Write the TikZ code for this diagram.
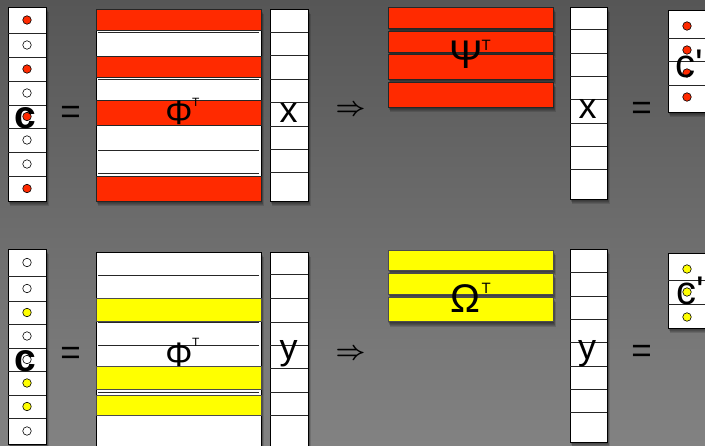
\documentclass[tikz,border=0pt]{standalone}
\usepackage{fontspec}
\setmainfont{Liberation Sans}
\definecolor{matred}{RGB}{255,42,0}
\definecolor{matyel}{RGB}{255,255,0}
\definecolor{bgtop}{RGB}{86,86,86}
\definecolor{bgbot}{RGB}{130,130,130}
\pgfdeclarelayer{bglayer}
\pgfdeclarelayer{shadowlayer}
\pgfsetlayers{bglayer,shadowlayer,main}
\newcommand\castshadow[1]{%
  \begin{pgfonlayer}{shadowlayer}
  \foreach \s in {1,2,3,4,5}
    \fill[black, opacity=0.13] ([shift={(0.5*\s,\s)}]#1.north west) rectangle ([shift={(0.5*\s,\s)}]#1.south east);
  \end{pgfonlayer}}
\tikzset{
  box/.style={rectangle, draw=black, line width=0.9pt, fill=white, inner sep=0pt},
  redbar/.style={rectangle, draw=black!85, line width=0.8pt, fill=matred, inner sep=0pt, minimum width=165pt},
  yelbar/.style={rectangle, draw=black!70, line width=0.8pt, fill=matyel, inner sep=0pt, minimum width=165pt},
  cellline/.style={draw=black!85, line width=0.7pt},
  dot/.style={circle, draw=black, line width=0.6pt, minimum size=8.5pt, inner sep=0pt},
  lbl/.style={inner sep=0pt, text=black},
  big/.style={lbl, font=\fontsize{40}{44}\selectfont},
  bigc/.style={lbl, font=\fontsize{39}{44}\selectfont\bfseries},
  mid/.style={lbl, font=\fontsize{36}{40}\selectfont},
  phis/.style={lbl, font=\fontsize{34}{38}\selectfont},
  supsmall/.style={lbl, font=\fontsize{12}{13}\selectfont},
  supbig/.style={lbl, font=\fontsize{15}{16}\selectfont},
  eqs/.style={lbl, font=\fontsize{35}{38}\selectfont},
}
\begin{document}
\begin{tikzpicture}[x=1pt,y=-1pt]
\useasboundingbox (0,0) rectangle (705,445);
\begin{pgfonlayer}{bglayer}
\shade[top color=bgtop, bottom color=bgbot] (0,0) rectangle (705,445);
\end{pgfonlayer}

% ================= TOP ROW =================
\node[box, minimum width=38pt, minimum height=194pt] (cA) at (27,104) {};
\castshadow{cA}
\foreach \yy in {33,57,81,105,128,152,176} \draw[cellline] (8,\yy) -- (46,\yy);
\foreach \yy/\cc [count=\k] in {20/matred,45/white,69/matred,93/white,116.5/matred,140/white,164/white,188.5/matred}
  \node[dot, fill=\cc] (cAd\k) at (27,\yy) {};
\node[bigc, anchor=base] (cAl) at (25.5,128) {c};
\node[eqs] (eq1) at (70.5,115) {=};

\node[box, minimum width=165pt, minimum height=192pt] (phiA) at (178.5,105) {};
\castshadow{phiA}
\foreach \yy in {32,79,150,173} \draw[cellline] (98,\yy) -- (259,\yy);
\node[redbar, minimum height=21.5pt] (phiAr1) at (178.5,19.75) {};
\node[redbar, minimum height=21pt] (phiAr2) at (178.5,67) {};
\node[redbar, minimum height=25pt] (phiAr3) at (178.5,113) {};
\node[redbar, minimum height=24.5pt] (phiAr4) at (178.5,188.75) {};
\node[phis, anchor=base] (phiAl) at (179,124) {Φ};
\node[supsmall, anchor=base west] (phiAt) at (192,106) {T};

\node[box, minimum width=38pt, minimum height=192pt] (xA) at (289,105) {};
\castshadow{xA}
\foreach \yy in {32,55,79,102,126,149,172} \draw[cellline] (270,\yy) -- (308,\yy);
\node[mid, anchor=base] (xAl) at (288.5,122) {x};

\node[lbl] (impA) at (350.5,110.5) {\scalebox{2.6}{\boldmath$\Rightarrow$}};

\node[redbar, minimum height=21.5pt] (psi1) at (470.5,17.75) {};
\node[redbar, minimum height=21.5pt] (psi2) at (470.5,41.75) {};
\node[redbar, minimum height=24.5pt] (psi3) at (470.5,66.75) {};
\node[redbar, minimum height=25pt] (psi4) at (470.5,94.5) {};
\foreach \n in {psi1,psi2,psi3,psi4} {\castshadow{\n}}
\node[big, anchor=base] (psil) at (466,68) {Ψ};
\node[supbig, anchor=base west] (psit) at (481.5,50) {T};

\node[box, minimum width=37pt, minimum height=192pt] (xB) at (588.5,103) {};
\castshadow{xB}
\foreach \yy in {29,53,76,99,123,146,169} \draw[cellline] (570,\yy) -- (607,\yy);
\node[mid, anchor=base] (xBl) at (587.5,118) {x};
\node[eqs] (eq2) at (641.5,111) {=};

\node[box, minimum width=52pt, minimum height=102pt] (cpA) at (694,61) {};
\castshadow{cpA}
\foreach \yy in {38,61,85} \draw[cellline] (668,\yy) -- (720,\yy);
\foreach \yy [count=\k] in {26,50,73,97} \node[dot, fill=matred] (cpAd\k) at (687,\yy) {};
\node[big, anchor=base west] (cpAl) at (675.5,77) {c\textquotesingle};

% ================= BOTTOM ROW =================
\node[box, minimum width=38pt, minimum height=195pt] (cB) at (27,346.5) {};
\castshadow{cB}
\foreach \yy in {276,301,324,348,371,395,418} \draw[cellline] (8,\yy) -- (46,\yy);
\foreach \yy/\cc [count=\k] in {262.5/white,288.5/white,312.5/matyel,336/white,359.5/white,383/matyel,406.5/matyel,431/white}
  \node[dot, fill=\cc] (cBd\k) at (27,\yy) {};
\node[bigc, anchor=base] (cBl) at (25,371) {c};
\node[eqs] (eq3) at (70.5,356) {=};

\node[box, minimum width=165pt, minimum height=198pt] (phiB) at (178.5,351) {};
\castshadow{phiB}
\foreach \yy in {275.4,322.2,345.6,392.4,415.8} \draw[cellline] (98,\yy) -- (259,\yy);
\node[yelbar, minimum height=22.5pt] (phiBy1) at (178.5,309.75) {};
\node[yelbar, minimum height=23.5pt] (phiBy2) at (178.5,377.75) {};
\node[yelbar, minimum height=20.5pt] (phiBy3) at (178.5,405.25) {};
\node[phis, anchor=base] (phiBl) at (179,366.5) {Φ};
\node[supsmall, anchor=base west] (phiBt) at (192,346) {T};

\node[box, minimum width=38pt, minimum height=198pt] (yA) at (289,351) {};
\castshadow{yA}
\foreach \yy in {274,298,322,345,368,392,415} \draw[cellline] (270,\yy) -- (308,\yy);
\node[mid, anchor=base] (yAl) at (288.5,359) {y};

\node[lbl] (impB) at (350.5,354.5) {\scalebox{2.6}{\boldmath$\Rightarrow$}};

\node[yelbar, minimum height=20pt] (om1) at (470.5,260) {};
\node[yelbar, minimum height=20.7pt] (om2) at (470.5,283.65) {};
\node[yelbar, minimum height=24.4pt] (om3) at (470.5,309.5) {};
\foreach \n in {om1,om2,om3} {\castshadow{\n}}
\node[big, anchor=base] (oml) at (465.5,312) {Ω};
\node[supbig, anchor=base west] (omt) at (481.5,293) {T};

\node[box, minimum width=37pt, minimum height=193pt] (yB) at (588.5,345.5) {};
\castshadow{yB}
\foreach \yy in {272,296,319,342,366,389,412} \draw[cellline] (570,\yy) -- (607,\yy);
\node[mid, anchor=base] (yBl) at (587,359) {y};
\node[eqs] (eq4) at (641.5,354) {=};

\node[box, minimum width=52pt, minimum height=75pt] (cpB) at (694,290.5) {};
\castshadow{cpB}
\foreach \yy in {280,304} \draw[cellline] (668,\yy) -- (720,\yy);
\foreach \yy [count=\k] in {269,292,317} \node[dot, fill=matyel] (cpBd\k) at (687,\yy) {};
\node[big, anchor=base west] (cpBl) at (676,304) {c\textquotesingle};
\end{tikzpicture}
\end{document}
